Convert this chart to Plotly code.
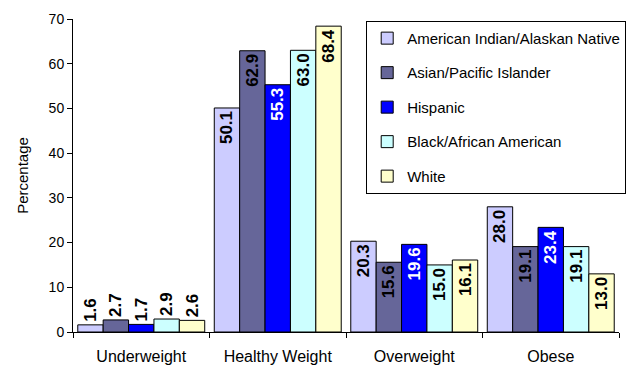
import plotly.graph_objects as go

# Weight status by race/ethnicity (percent)
categories = ["Underweight", "Healthy Weight", "Overweight", "Obese"]
groups = [
    "American Indian/Alaskan Native",
    "Asian/Pacific Islander",
    "Hispanic",
    "Black/African American",
    "White",
]
american_indian = [1.6, 50.1, 20.3, 28.0]
asian_pacific = [2.7, 62.9, 15.6, 19.1]
hispanic = [1.7, 55.3, 19.6, 23.4]
black_african = [2.9, 63.0, 15.0, 19.1]
white = [2.6, 68.4, 16.1, 13.0]

series = [american_indian, asian_pacific, hispanic, black_african, white]
fill_colors = ["#CCCCFF", "#666699", "#0000FF", "#CCFFFF", "#FFFFCC"]
label_colors = ["black", "black", "white", "black", "black"]

FONT = "Arial, Liberation Sans, sans-serif"
LABEL_SIZE = 17

fig = go.Figure()
for i, (name, vals) in enumerate(zip(groups, series)):
    # short bars carry their label above the bar, tall bars inside the top end
    positions = ["outside" if v < 10 else "inside" for v in vals]
    colors = ["black" if p == "outside" else label_colors[i] for p in positions]
    fig.add_trace(go.Bar(
        name=name,
        x=categories,
        y=vals,
        legendgroup=name,
        marker=dict(color=fill_colors[i], line=dict(color="black", width=1)),
        text=[f"{v:.1f}" for v in vals],
        textposition=positions,
        insidetextanchor="end",
        textangle=-90,
        textfont=dict(family=FONT, size=LABEL_SIZE, color=colors, weight="bold"),
        outsidetextfont=dict(family=FONT, size=LABEL_SIZE, color="black", weight="bold"),
        insidetextfont=dict(family=FONT, size=LABEL_SIZE, color=colors, weight="bold"),
        constraintext="none",
        cliponaxis=False,
    ))

fig.update_layout(
    width=637,
    height=369,
    margin=dict(l=73, r=18, t=19, b=37, autoexpand=False),
    paper_bgcolor="white",
    plot_bgcolor="white",
    barmode="group",
    bargap=0.07,
    bargroupgap=0,
    font=dict(family=FONT, size=14, color="black"),
    legend=dict(
        x=0.537, y=0.994, xanchor="left", yanchor="top",
        bgcolor="white", bordercolor="black", borderwidth=1,
        font=dict(family=FONT, size=15, color="black"),
        tracegroupgap=12,
        traceorder="grouped",
    ),
    xaxis=dict(
        showline=True, linecolor="black", linewidth=1,
        ticks="outside", ticklen=5, tickcolor="black",
        tickson="boundaries",
        tickfont=dict(family=FONT, size=16),
        ticklabelstandoff=10,
        showgrid=False,
        automargin=False,
    ),
    yaxis=dict(
        range=[0, 70], dtick=10,
        showline=True, linecolor="black", linewidth=1,
        ticks="outside", ticklen=5, tickcolor="black",
        tickfont=dict(family=FONT, size=14),
        showgrid=False, zeroline=False,
        automargin=False,
        title=dict(text="Percentage", font=dict(family=FONT, size=15), standoff=16),
    ),
)

fig.write_html("out.html")
